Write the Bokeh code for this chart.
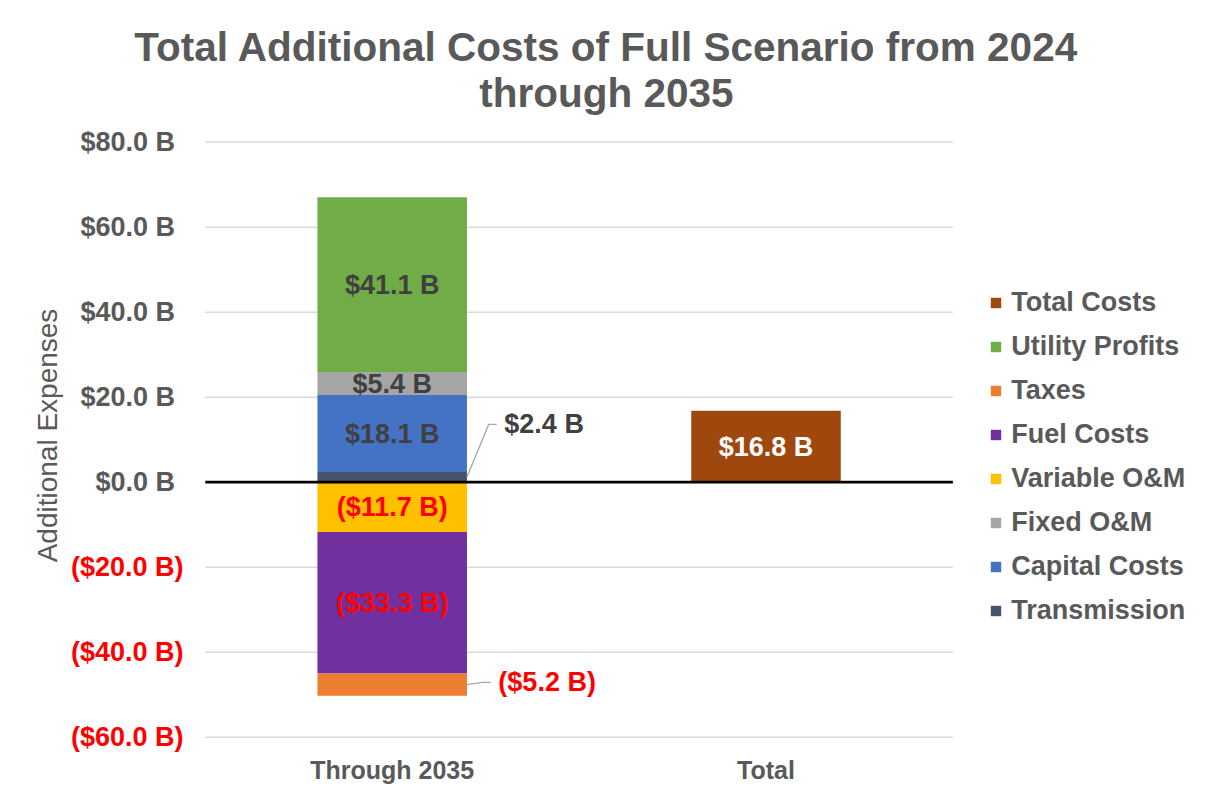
import math
import numpy as np
from bokeh.plotting import figure
from bokeh.models import Range1d, Legend, LegendItem, ColumnDataSource
from bokeh.core.properties import value
from bokeh.embed import file_html
from bokeh.resources import INLINE

# ---------------- data ----------------
categories = ["Through 2035", "Total"]
transmission = [2.4, 0.0]
capital_costs = [18.1, 0.0]
fixed_om = [5.4, 0.0]
utility_profits = [41.1, 0.0]
variable_om = [-11.7, 0.0]
fuel_costs = [-33.3, 0.0]
taxes = [-5.2, 0.0]
total_costs = [0.0, 16.8]
y_ticks = [-60, -40, -20, 0, 20, 40, 60, 80]
title_lines = ["Total Additional Costs of Full Scenario from 2024", "through 2035"]
y_axis_title = "Additional Expenses"

# series: (name, values, color)
positive_stack = [
    ("Transmission", transmission, "#44546A"),
    ("Capital Costs", capital_costs, "#4472C4"),
    ("Fixed O&M", fixed_om, "#A5A5A5"),
    ("Utility Profits", utility_profits, "#70AD47"),
]
negative_stack = [
    ("Variable O&M", variable_om, "#FFC000"),
    ("Fuel Costs", fuel_costs, "#7030A0"),
    ("Taxes", taxes, "#ED7D31"),
]
total_series = ("Total Costs", total_costs, "#9E480E")
legend_order = ["Total Costs", "Utility Profits", "Taxes", "Fuel Costs",
                "Variable O&M", "Fixed O&M", "Capital Costs", "Transmission"]
callout_series = ["Transmission", "Taxes"]

# ---------------- layout helpers (screen px -> data) ----------------
FONT = "Liberation Sans"
GREY = "#595959"
DARK = "#404040"
RED = "#FF0000"
W, HF = 1193, 790
PX_X = 373.8
CAT0 = 391.7
PX_Y = 4.2514
Y80 = 141.6
x_start = -CAT0 / PX_X
x_end = (W - CAT0) / PX_X
y_end = 80 + Y80 / PX_Y
y_start = 80 - (HF - Y80) / PX_Y


def sx(px):
    return (px - CAT0) / PX_X


def sy(py):
    return 80 - (py - Y80) / PX_Y


def fmt(v):
    return f"${v:.1f} B" if v >= 0 else f"(${abs(v):.1f} B)"


BAR_W = 0.4
n = len(categories)
idx = np.arange(n, dtype=float)

p = figure(width=W, height=HF, frame_width=W, frame_height=HF,
           x_range=Range1d(x_start, x_end), y_range=Range1d(y_start, y_end),
           output_backend="svg", toolbar_location=None, title=None,
           x_axis_location=None, y_axis_location=None, min_border=0,
           background_fill_color="white", border_fill_color="white",
           outline_line_color=None)
p.xgrid.visible = False
p.ygrid.visible = False

# gridlines
grid_vals = [t for t in y_ticks if t != 0]
p.segment(x0=[-0.5] * len(grid_vals), x1=[n - 0.5] * len(grid_vals),
          y0=grid_vals, y1=grid_vals, line_color="#D9D9D9", line_width=1.5)

# y tick labels
pos_t = [t for t in y_ticks if t >= 0]
neg_t = [t for t in y_ticks if t < 0]
p.text(x=[sx(174.5)] * len(pos_t), y=pos_t, text=[fmt(t) for t in pos_t],
       text_align="right", text_baseline="middle", text_font=value(FONT),
       text_font_style="bold", text_font_size="27px", text_color=GREY)
p.text(x=[sx(183)] * len(neg_t), y=neg_t, text=[fmt(t) for t in neg_t],
       text_align="right", text_baseline="middle", text_font=value(FONT),
       text_font_style="bold", text_font_size="27px", text_color=RED)

# category (x tick) labels
p.text(x=list(idx), y=[sy(769)] * n, text=categories,
       text_align="center", text_baseline="middle", text_font=value(FONT),
       text_font_style="bold", text_font_size="25px", text_color=GREY)

# y axis title
p.text(x=[sx(47)], y=[sy(435)], text=[y_axis_title], angle=math.pi / 2,
       text_align="center", text_baseline="middle", text_font=value(FONT),
       text_font_size="28px", text_color=GREY)

# title
p.text(x=[sx(606)] * 2, y=[sy(46), sy(92)], text=title_lines,
       text_align="center", text_baseline="middle", text_font=value(FONT),
       text_font_style="bold", text_font_size="40.5px", text_color=GREY)

# bars
renderers = {}
labels = {"x": [], "y": [], "text": [], "color": []}
callouts = []


def add_stack(stack):
    base = np.zeros(n)
    for name, vals, color in stack:
        v = np.array(vals, dtype=float)
        top = base + v
        r = p.vbar(x=idx, bottom=base, top=top, width=BAR_W,
                   fill_color=color, line_alpha=0)
        renderers[name] = r
        for i in range(n):
            if v[i] == 0:
                continue
            mid = (base[i] + top[i]) / 2
            if name in callout_series:
                callouts.append((idx[i] + BAR_W / 2, mid, v[i], name))
            else:
                labels["x"].append(idx[i])
                labels["y"].append(mid)
                labels["text"].append(fmt(v[i]))
                labels["color"].append(DARK if v[i] > 0 else RED)
        base = top


add_stack(positive_stack)
add_stack(negative_stack)
tname, tvals, tcolor = total_series
tv = np.array(tvals, dtype=float)
renderers[tname] = p.vbar(x=idx, bottom=0, top=tv, width=BAR_W,
                          fill_color=tcolor, line_alpha=0)
for i in range(n):
    if tv[i] != 0:
        labels["x"].append(idx[i])
        labels["y"].append(tv[i] / 2)
        labels["text"].append(fmt(tv[i]))
        labels["color"].append("white")

# zero line
p.segment(x0=[-0.5], x1=[n - 0.5], y0=[0], y1=[0], line_color="black", line_width=2.8)

# in-bar labels
p.text(x="x", y="y", text="text", text_color="color", source=ColumnDataSource(labels),
       text_align="center", text_baseline="middle", text_font=value(FONT),
       text_font_style="bold", text_font_size="27px")

# callout labels with leader lines
callout_offsets = {"Transmission": (0.058, 12.4), "Taxes": (0.042, 0.5)}
run = 0.022
gap = 0.02
for x0, y0, v, name in callouts:
    dx, dy = callout_offsets[name]
    ex, ey = x0 + dx, y0 + dy
    p.line(x=[x0, ex, ex + run], y=[y0, ey, ey], line_color="#A6A6A6", line_width=1.3)
    p.text(x=[ex + run + gap], y=[ey], text=[fmt(v)], text_align="left",
           text_baseline="middle", text_font=value(FONT), text_font_style="bold",
           text_font_size="27px", text_color=DARK if v > 0 else RED)

# legend
legend = Legend(items=[LegendItem(label=nm, renderers=[renderers[nm]]) for nm in legend_order],
                location=(989.3, HF - 626.3))
legend.label_text_font = FONT
legend.label_text_font_style = "bold"
legend.label_text_font_size = "27px"
legend.label_text_color = GREY
legend.glyph_width = 13
legend.glyph_height = 13
legend.label_standoff = 9
legend.spacing = 12
legend.label_height = 32
legend.padding = 0
legend.margin = 0
legend.border_line_color = None
legend.background_fill_alpha = 0
p.add_layout(legend)

open("out.html", "w").write(file_html(p, INLINE))
